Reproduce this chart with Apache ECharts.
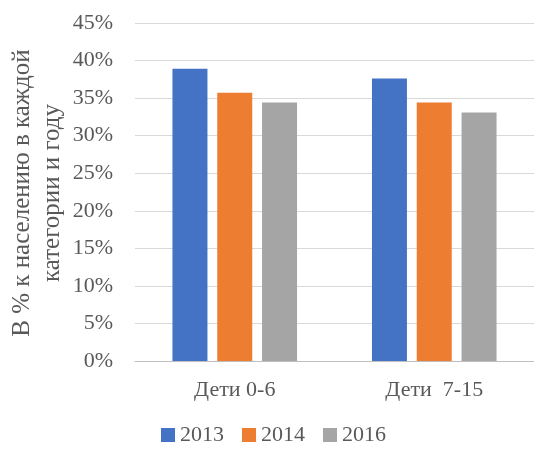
<!DOCTYPE html>
<html>
<head>
<meta charset="utf-8">
<script src="https://cdn.jsdelivr.net/npm/echarts@6/dist/echarts.min.js"></script>
<style>
  html, body { margin: 0; padding: 0; background: #fff; }
  #chart { width: 534px; height: 450px; }
</style>
</head>
<body>
<div id="chart"></div>
<script>
const categories = ["Дети 0-6", "Дети  7-15"];
const seriesNames = ["2013", "2014", "2016"];
const values2013 = [38.9, 37.6];
const values2014 = [35.7, 34.4];
const values2016 = [34.4, 33.1];
const colors = ["#4472c4", "#ed7d31", "#a5a5a5"];
const yTitleLines = ["В % к населению в каждой", "категории и году"];

const font = "Liberation Serif";
const textColor = "#595959";

// каждая строка подписи оси Y — отдельный текст, по центру
const titleText = (text, x) => ({
  type: "text",
  x: x,
  y: 193,
  rotation: Math.PI / 2,
  style: {
    text: text,
    fill: textColor,
    font: "25px 'Liberation Serif'",
    align: "center",
    verticalAlign: "middle"
  }
});

const chart = echarts.init(document.getElementById("chart"));
chart.setOption({
  animation: false,
  color: colors,
  textStyle: { fontFamily: font },
  grid: { left: 135, right: 0, top: 23, bottom: 89, containLabel: false, outerBoundsMode: "none" },
  graphic: [titleText(yTitleLines[0], 22), titleText(yTitleLines[1], 52)],
  legend: {
    top: 424,
    left: 161,
    padding: 0,
    itemWidth: 14,
    itemHeight: 14,
    itemGap: 18,
    icon: "rect",
    textStyle: { color: textColor, fontSize: 22, fontFamily: font },
    data: seriesNames
  },
  xAxis: {
    type: "category",
    data: categories,
    axisTick: { show: false },
    axisLine: { lineStyle: { color: "#bfbfbf", width: 1 } },
    axisLabel: { color: textColor, fontSize: 22, margin: 18, fontFamily: font }
  },
  yAxis: {
    type: "value",
    min: 0,
    max: 45,
    interval: 5,
    axisLabel: { color: textColor, fontSize: 22, margin: 22, formatter: "{value}%", fontFamily: font },
    splitLine: { lineStyle: { color: "#d9d9d9", width: 1 } },
    axisLine: { show: false },
    axisTick: { show: false }
  },
  series: [
    { name: seriesNames[0], type: "bar", data: values2013, barWidth: 35, barGap: "28%" },
    { name: seriesNames[1], type: "bar", data: values2014, barWidth: 35, barGap: "28%" },
    { name: seriesNames[2], type: "bar", data: values2016, barWidth: 35, barGap: "28%" }
  ]
});
</script>
</body>
</html>
